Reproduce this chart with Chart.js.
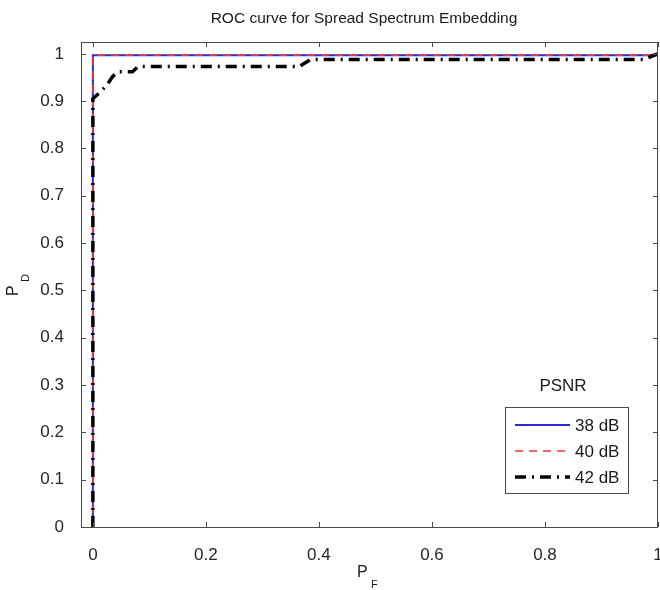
<!DOCTYPE html>
<html>
<head>
<meta charset="utf-8">
<script src="https://cdn.jsdelivr.net/npm/chart.js@4.4.1/dist/chart.umd.min.js"></script>
<style>
  html, body { margin: 0; padding: 0; background: #fff; }
  #wrap { width: 660px; height: 590px; }
</style>
</head>
<body>
<div id="wrap"><canvas id="c" width="660" height="590"></canvas></div>
<script>
// ---- data ----
const seriesLabels = ["38 dB", "40 dB", "42 dB"];
const pf38 = [0, 0, 0.985, 1];
const pd38 = [0, 0.997, 0.997, 1];
const pf40 = [0, 0, 0.985, 1];
const pd40 = [0, 0.997, 0.997, 1];
const pf42 = [0, 0, 0.012, 0.025, 0.035, 0.045, 0.07, 0.08, 0.365, 0.385, 0.975, 1];
const pd42 = [0, 0.905, 0.918, 0.934, 0.952, 0.962, 0.962, 0.973, 0.973, 0.988, 0.988, 1];
const xTicks = [0, 0.2, 0.4, 0.6, 0.8, 1];
const xTickLabels = ["0", "0.2", "0.4", "0.6", "0.8", "1"];
const yTicks = [0, 0.1, 0.2, 0.3, 0.4, 0.5, 0.6, 0.7, 0.8, 0.9, 1];
const yTickLabels = ["0", "0.1", "0.2", "0.3", "0.4", "0.5", "0.6", "0.7", "0.8", "0.9", "1"];
const titleText = "ROC curve for Spread Spectrum Embedding";
const legendTitle = "PSNR";

const zip = (xs, ys) => xs.map((x, i) => ({ x: x, y: ys[i] }));
const FONT = "'Liberation Sans', Arial, sans-serif";

const styles = [
  { color: "#2b2bd6", width: 2, dash: [] },
  { color: "#e8383c", width: 1.6, dash: [8, 6] },
  { color: "#000000", width: 3.5, dash: [11, 6, 2, 6] }
];

const decorPlugin = {
  id: "decor",
  afterDatasetsDraw(chart) {
    const ctx = chart.ctx;
    const a = chart.chartArea;
    const xs = chart.scales.x, ys = chart.scales.y;
    ctx.save();
    // frame
    ctx.strokeStyle = "#4a4a4a";
    ctx.lineWidth = 1;
    ctx.setLineDash([]);
    ctx.strokeRect(Math.round(a.left) + 0.5, Math.round(a.top) + 0.5,
                   Math.round(a.right - a.left) - 1, Math.round(a.bottom - a.top));
    // inward ticks
    const tl = 5;
    ctx.beginPath();
    xTicks.forEach(v => {
      const px = Math.round(xs.getPixelForValue(v)) + 0.5;
      ctx.moveTo(px, a.bottom); ctx.lineTo(px, a.bottom - tl);
      ctx.moveTo(px, a.top); ctx.lineTo(px, a.top + tl);
    });
    yTicks.forEach(v => {
      const py = Math.round(ys.getPixelForValue(v)) + 0.5;
      ctx.moveTo(a.left, py); ctx.lineTo(a.left + tl, py);
      ctx.moveTo(a.right, py); ctx.lineTo(a.right - tl, py);
    });
    ctx.stroke();

    // title
    ctx.fillStyle = "#1a1a1a";
    ctx.font = "15.5px " + FONT;
    ctx.textAlign = "center";
    ctx.textBaseline = "alphabetic";
    ctx.fillText(titleText, 364, 23);

    // x axis label P_F
    ctx.font = "16px " + FONT;
    ctx.textAlign = "left";
    ctx.fillText("P", 357, 577);
    ctx.font = "11px " + FONT;
    ctx.fillText("F", 371, 588);

    // y axis label P_D (rotated)
    ctx.save();
    ctx.translate(18, 296);
    ctx.rotate(-Math.PI / 2);
    ctx.font = "16px " + FONT;
    ctx.textAlign = "left";
    ctx.fillText("P", 0, 0);
    ctx.font = "11px " + FONT;
    ctx.fillText("D", 14, 11);
    ctx.restore();

    // legend
    ctx.font = "17px " + FONT;
    ctx.textAlign = "center";
    ctx.fillText(legendTitle, 563, 391);
    const bx = 505, by = 407, bw = 123, bh = 86;
    ctx.fillStyle = "#ffffff";
    ctx.fillRect(bx, by, bw, bh);
    ctx.strokeStyle = "#4a4a4a";
    ctx.lineWidth = 1;
    ctx.strokeRect(bx + 0.5, by + 0.5, bw, bh);
    const rows = [425, 451, 477];
    chart.data.datasets.forEach((ds, i) => {
      const st = styles[i];
      ctx.strokeStyle = st.color;
      ctx.lineWidth = st.width;
      ctx.setLineDash(st.dash);
      ctx.lineDashOffset = 0;
      ctx.beginPath();
      ctx.moveTo(515, rows[i]);
      ctx.lineTo(570, rows[i]);
      ctx.stroke();
      ctx.setLineDash([]);
      ctx.fillStyle = "#1a1a1a";
      ctx.textAlign = "left";
      ctx.textBaseline = "middle";
      ctx.fillText(ds.label, 575, rows[i] + 1);
    });
    ctx.restore();
  }
};

new Chart(document.getElementById("c"), {
  type: "line",
  data: {
    datasets: [
      { label: seriesLabels[0], data: zip(pf38, pd38), borderColor: styles[0].color,
        borderWidth: styles[0].width, borderDash: styles[0].dash, order: 3 },
      { label: seriesLabels[1], data: zip(pf40, pd40), borderColor: styles[1].color,
        borderWidth: styles[1].width, borderDash: styles[1].dash, order: 2 },
      { label: seriesLabels[2], data: zip(pf42, pd42), borderColor: styles[2].color,
        borderWidth: styles[2].width, borderDash: styles[2].dash, order: 1 }
    ]
  },
  options: {
    responsive: false,
    animation: false,
    events: [],
    layout: { padding: { top: 42, right: 2, left: 0, bottom: 0 } },
    elements: { point: { radius: 0 }, line: { tension: 0, fill: false } },
    plugins: { legend: { display: false }, tooltip: { enabled: false }, title: { display: false } },
    scales: {
      x: {
        type: "linear", min: -0.021, max: 1,
        grid: { display: false }, border: { display: false },
        afterBuildTicks: s => { s.ticks = xTicks.map(v => ({ value: v })); },
        afterFit: s => { s.height = 63; s.paddingLeft = 0; s.paddingRight = 0; },
        ticks: {
          padding: 10, maxRotation: 0, autoSkip: false,
          color: "#262626", font: { family: FONT, size: 17 },
          callback: (v, i) => xTickLabels[i]
        }
      },
      y: {
        type: "linear", min: 0, max: 1.025,
        grid: { display: false }, border: { display: false },
        afterBuildTicks: s => { s.ticks = yTicks.map(v => ({ value: v })); },
        afterFit: s => { s.width = 81; s.paddingTop = 0; s.paddingBottom = 0; },
        ticks: {
          padding: 9, autoSkip: false,
          color: "#262626", font: { family: FONT, size: 17 },
          callback: (v, i) => yTickLabels[i]
        }
      }
    }
  },
  plugins: [decorPlugin]
});
</script>
</body>
</html>
